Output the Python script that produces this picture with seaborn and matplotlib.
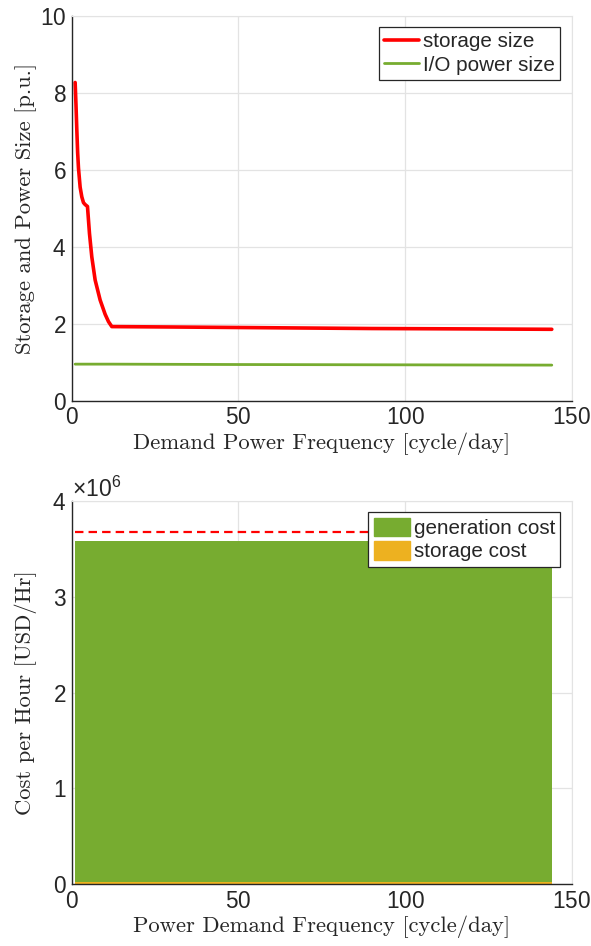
import matplotlib
matplotlib.use("Agg")
import matplotlib.pyplot as plt
import matplotlib.patches as mpatches
from matplotlib.ticker import ScalarFormatter
import numpy as np
import seaborn as sns

# top panel: storage / power size vs demand frequency
size_freq = [1, 1.25, 1.5, 1.75, 2, 2.5, 3, 3.5, 4, 4.7, 5.3, 6, 7, 8.5, 10, 11, 12,
             30, 60, 90, 120, 144]
storage_size = [8.27, 7.7, 7.05, 6.45, 6.05, 5.55, 5.3, 5.15, 5.1, 5.05, 4.35, 3.74, 3.14,
                2.62, 2.25, 2.06, 1.93, 1.92, 1.90, 1.88, 1.87, 1.86]
io_freq = [1, 12, 50, 100, 144]
io_power_size = [0.955, 0.955, 0.945, 0.937, 0.93]

# bottom panel: cost per hour
cost_freq = [1, 12, 50, 100, 144]
generation_cost = [3.56e6, 3.56e6, 3.56e6, 3.56e6, 3.56e6]
storage_cost = [1.8e4, 1.8e4, 1.8e4, 1.8e4, 1.8e4]
ref_freq = [1, 144]
ref_cost = [3.68e6, 3.68e6]

RED = "#ff0000"
GREEN = "#77ac30"
ORANGE = "#edb120"
AXC = "#262626"
GRIDC = "#e3e3e3"

sns.set_style("white")
plt.rcParams["font.family"] = ["Liberation Sans", "DejaVu Sans"]
plt.rcParams["mathtext.fontset"] = "custom"
plt.rcParams["mathtext.rm"] = "Liberation Sans"
plt.rcParams["mathtext.it"] = "Liberation Sans"
plt.rcParams["axes.formatter.use_mathtext"] = True

fig = plt.figure(figsize=(5.91, 9.46), dpi=100)
ax1 = fig.add_axes([0.1215, 0.5762, 0.846, 0.407])
ax2 = fig.add_axes([0.1215, 0.0655, 0.846, 0.4048])


def style_axes(ax):
    ax.grid(True, color=GRIDC, lw=0.9)
    ax.set_axisbelow(True)
    for s in ["top", "right"]:
        ax.spines[s].set_color(GRIDC)
    for s in ["left", "bottom"]:
        ax.spines[s].set_color(AXC)
        ax.spines[s].set_linewidth(1.0)
    ax.tick_params(direction="in", length=4, width=0.9, colors=AXC, labelsize=16.3,
                   top=False, right=False, pad=4)


sns.lineplot(x=size_freq, y=storage_size, ax=ax1, color=RED, lw=2.6,
             estimator=None, label="storage size")
sns.lineplot(x=io_freq, y=io_power_size, ax=ax1, color=GREEN, lw=2.0,
             estimator=None, label="I/O power size")
ax1.set_xlim(0, 150)
ax1.set_ylim(0, 10)
ax1.set_xticks([0, 50, 100, 150])
ax1.set_yticks([0, 2, 4, 6, 8, 10])
style_axes(ax1)
ax1.set_xlabel("Demand Power Frequency [cycle/day]", family="cmr10", fontsize=16.3)
ax1.set_ylabel("Storage and Power Size [p.u.]", family="cmr10", fontsize=16.3)
ax1.xaxis.set_label_coords(0.5, -0.082)
ax1.yaxis.set_label_coords(-0.07, 0.5)
leg = ax1.legend(loc="upper right", fontsize=14.9, frameon=True, fancybox=False,
                 edgecolor=AXC, framealpha=1, handlelength=1.7, handletextpad=0.2,
                 labelspacing=0.2, borderpad=0.25, borderaxespad=0.55)
leg.get_frame().set_linewidth(0.9)

# bottom: stacked area
total_cost = np.add(storage_cost, generation_cost)
ax2.fill_between(cost_freq, 0, storage_cost, color=ORANGE, lw=0)
ax2.fill_between(cost_freq, storage_cost, total_cost, color=GREEN, lw=0)
sns.lineplot(x=ref_freq, y=ref_cost, ax=ax2, color=RED, lw=1.6, estimator=None)
ax2.lines[-1].set_linestyle((0, (3.8, 2.3)))
ax2.set_xlim(0, 150)
ax2.set_ylim(0, 4e6)
ax2.set_xticks([0, 50, 100, 150])
ax2.set_yticks([0, 1e6, 2e6, 3e6, 4e6])
fmt = ScalarFormatter(useMathText=True)
fmt.set_powerlimits((0, 0))
ax2.yaxis.set_major_formatter(fmt)
style_axes(ax2)
ax2.yaxis.get_offset_text().set_fontsize(16.5)
ax2.yaxis.get_offset_text().set_color(AXC)
ax2.set_xlabel("Power Demand Frequency [cycle/day]", family="cmr10", fontsize=16.3)
ax2.set_ylabel("Cost per Hour [USD/Hr]", family="cmr10", fontsize=16.3)
ax2.xaxis.set_label_coords(0.5, -0.082)
ax2.yaxis.set_label_coords(-0.07, 0.5)
handles = [mpatches.Patch(color=GREEN, label="generation cost"),
           mpatches.Patch(color=ORANGE, label="storage cost")]
leg2 = ax2.legend(handles=handles, loc="upper right", fontsize=14.9, frameon=True,
                  fancybox=False, edgecolor=AXC, framealpha=1, handlelength=1.75,
                  handleheight=1.0, handletextpad=0.2, labelspacing=0.15,
                  borderpad=0.25, borderaxespad=0.55)
leg2.get_frame().set_linewidth(0.9)

fig.savefig("out.png", dpi=100)
